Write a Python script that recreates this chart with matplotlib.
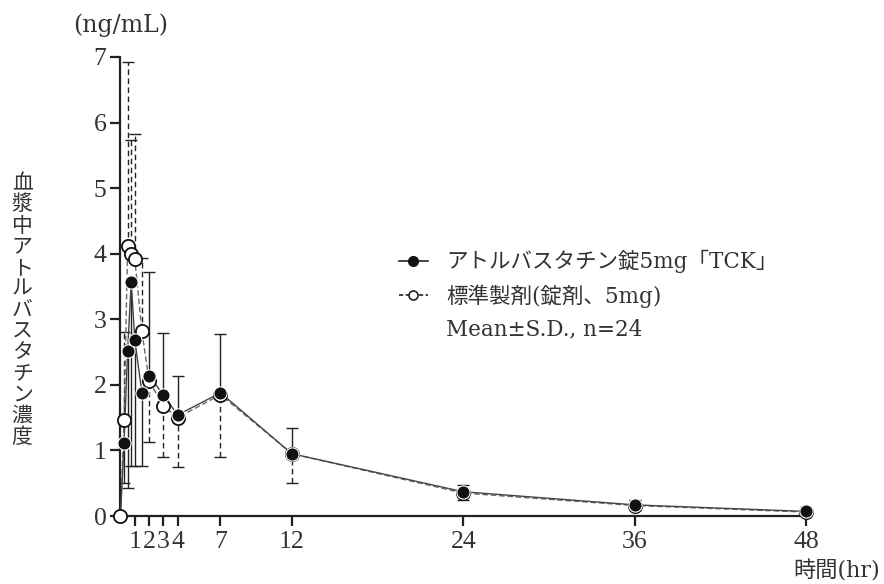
import matplotlib
matplotlib.use("Agg")
import matplotlib.pyplot as plt
from matplotlib.lines import Line2D

plt.rcParams['font.family'] = ['DejaVu Serif', 'Noto Sans CJK JP', 'DejaVu Sans']

# Sampling times (hr)
time_hr = [0, 0.25, 0.5, 0.75, 1, 1.5, 2, 3, 4, 7, 12, 24, 36, 48]

# Test tablet (filled circles)
test_mean = [0, 1.12, 2.52, 3.57, 2.69, 1.88, 2.14, 1.85, 1.54, 1.88, 0.95, 0.37, 0.17, 0.07]
test_sd_lower = [0, 0.62, 2.10, 2.81, 1.93, 1.12, 0, 0, 0, 0, 0, 0, 0, 0]
test_sd_upper = [0, 0, 0, 0, 0, 0, 1.58, 0.94, 0.60, 0.89, 0.39, 0.10, 0.07, 0.07]

# Reference product (open circles)
ref_mean = [0, 1.46, 4.12, 4.00, 3.92, 2.82, 2.06, 1.68, 1.50, 1.85, 0.95, 0.35, 0.16, 0.06]
ref_sd_lower = [0, 0, 0, 0, 0, 0, 0.93, 0.78, 0.75, 0.95, 0.45, 0.10, 0.07, 0.06]
ref_sd_upper = [0, 1.35, 2.80, 1.73, 1.90, 1.11, 0, 0, 0, 0, 0, 0, 0, 0]

x_ticks = [1, 2, 3, 4, 7, 12, 24, 36, 48]
x_ticklabels = ["1", "2", "3", "4", "7", "12", "24", "36", "48"]
y_ticks = [0, 1, 2, 3, 4, 5, 6, 7]

label_test = "アトルバスタチン錠5mg「TCK」"
label_ref = "標準製剤(錠剤、5mg)"
label_stat = "Mean±S.D., n=24"
y_label = "血漿中アトルバスタチン濃度"
unit_label = "(ng/mL)"
x_label = "時間(hr)"

text_color = "#333333"
axis_color = "#222222"

fig = plt.figure(figsize=(8.84, 5.84), dpi=100)
ax = fig.add_axes([0.1363, 0.1164, 0.7755, 0.786])

# Reference product: dashed line + dashed error bars
ax.plot(time_hr, ref_mean, color="#6a6a6a", lw=1.0, ls=(0, (4, 2)), zorder=2, clip_on=False)
eb = ax.errorbar(time_hr, ref_mean, yerr=[ref_sd_lower, ref_sd_upper], fmt="none",
                 ecolor="#222222", elinewidth=1.0, capsize=4.3, capthick=1.0, zorder=1)
for lc in eb[2]:
    lc.set_linestyle((0, (4, 2.5)))
ax.plot(time_hr, ref_mean, ls="none", marker="o", ms=9.5, mfc="white", mec="#111111",
        mew=1.3, zorder=4, clip_on=False)

# Test tablet: solid line + solid error bars
ax.plot(time_hr, test_mean, color="#444444", lw=1.0, zorder=3, clip_on=False)
ax.errorbar(time_hr, test_mean, yerr=[test_sd_lower, test_sd_upper], fmt="none",
            ecolor="#222222", elinewidth=1.0, capsize=4.3, capthick=1.0, zorder=1)
ax.plot(time_hr, test_mean, ls="none", marker="o", ms=9.5, mfc="#111111", mec="white",
        mew=0.8, markevery=slice(1, None), zorder=5, clip_on=False)

ax.set_xlim(0, 48)
ax.set_ylim(0, 7)
ax.set_xticks(x_ticks)
ax.set_xticklabels(x_ticklabels)
ax.set_yticks(y_ticks)

for side in ("top", "right"):
    ax.spines[side].set_visible(False)
for side in ("left", "bottom"):
    ax.spines[side].set_linewidth(1.6)
    ax.spines[side].set_color(axis_color)

ax.tick_params(axis="both", direction="out", length=7, width=1.6, color=axis_color,
               labelsize=18.5, labelcolor=text_color)
ax.tick_params(axis="x", pad=4)
ax.tick_params(axis="y", pad=3)
for lbl in ax.get_xticklabels() + ax.get_yticklabels():
    lbl.set_fontfamily(["Liberation Serif", "DejaVu Serif"])

# Legend
h_test = Line2D([], [], color="#222222", lw=1.2, marker="o", ms=7, mfc="#111111", mec="#111111")
h_ref = Line2D([], [], color="#222222", lw=1.2, ls=(0, (2.5, 1.5)), marker="o", ms=6.5,
               mfc="white", mec="#222222", mew=1.2)
h_blank = Line2D([], [], color="none")
leg = fig.legend([h_test, h_ref, h_blank], [label_test, label_ref, label_stat],
                 loc="upper left", bbox_to_anchor=(0.439, 0.590), frameon=False,
                 fontsize=15.5, handlelength=1.35, handletextpad=0.85, labelspacing=0.5,
                 borderpad=0)
for t in leg.get_texts():
    t.set_color(text_color)

# Axis titles
fig.text(0.025, 0.469, "\n".join(y_label), ha="center", va="center", fontsize=15,
         linespacing=0.95, color=text_color, family=["Noto Sans CJK JP"])
fig.text(0.136, 0.957, unit_label, ha="center", va="center", fontsize=17, color=text_color)
fig.text(0.996, 0.022, x_label, ha="right", va="center", fontsize=16, color=text_color)

fig.savefig("out.png", dpi=100)
